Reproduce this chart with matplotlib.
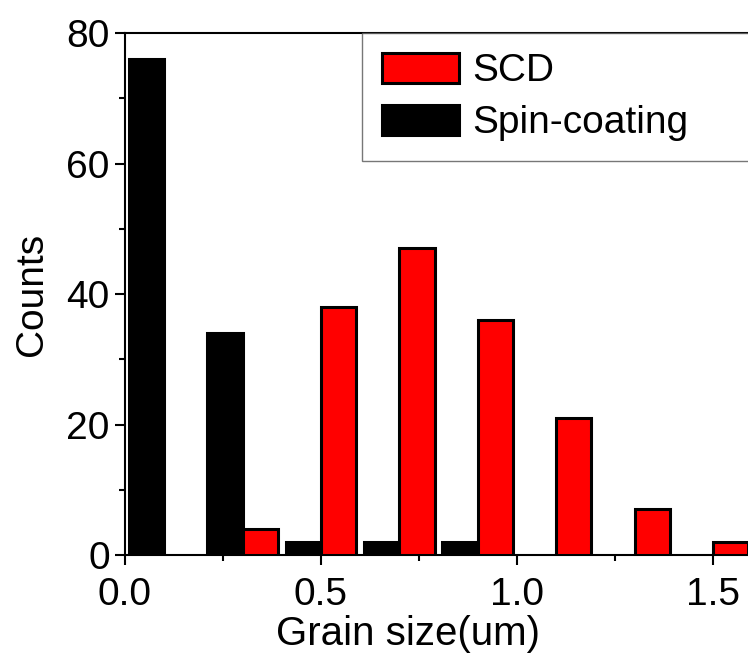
import numpy as np
import matplotlib
matplotlib.use("Agg")
import matplotlib.pyplot as plt
from matplotlib.ticker import MultipleLocator

plt.rcParams['font.family'] = ['Liberation Sans', 'DejaVu Sans']

# histogram data
bin_pos = [0.1, 0.3, 0.5, 0.7, 0.9, 1.1, 1.3, 1.5]
scd_counts = [0, 4, 38, 47, 36, 21, 7, 2]
spin_counts = [76, 34, 2, 2, 2, 0, 0, 0]
bar_w = 0.09

fig = plt.figure(figsize=(7.48, 6.64), dpi=100)
ax = fig.add_axes([0.167, 0.164, 0.835, 0.786])

def nonzero(xs, ys):
    pairs = [(x, y) for x, y in zip(xs, ys) if y > 0]
    return [p[0] for p in pairs], [p[1] for p in pairs]

sx, sy = nonzero(bin_pos, spin_counts)
cx, cy = nonzero(bin_pos, scd_counts)
ax.bar(sx, sy, width=-bar_w, align='edge', color='black', edgecolor='black',
       linewidth=2.2, label='Spin-coating', zorder=3)
ax.bar(cx, cy, width=bar_w, align='edge', color='#ff0000', edgecolor='black',
       linewidth=2.2, label='SCD', zorder=3)

ax.set_xlim(0, 1.593)
ax.set_ylim(0, 80)
ax.xaxis.set_major_locator(MultipleLocator(0.5))
ax.xaxis.set_minor_locator(MultipleLocator(0.25))
ax.yaxis.set_major_locator(MultipleLocator(20))
ax.yaxis.set_minor_locator(MultipleLocator(10))
ax.tick_params(which='major', direction='out', length=7, width=1.5, labelsize=28, pad=4)
ax.tick_params(which='minor', direction='out', length=4, width=1.5)
ax.tick_params(axis='x', which='major', pad=9)
ax.set_xticklabels([f"{v:.1f}" for v in ax.get_xticks()])

for side in ['left', 'bottom', 'top']:
    ax.spines[side].set_linewidth(1.5)
ax.spines['right'].set_visible(False)

ax.set_xlabel('Grain size(um)', fontsize=29)
ax.xaxis.set_label_coords(0.453, -0.115)
ax.set_ylabel('Counts', fontsize=28, labelpad=12)

handles, labels = ax.get_legend_handles_labels()
leg = ax.legend(handles[::-1], labels[::-1], loc='upper left',
                bbox_to_anchor=(0.38, 0.0, 0.63, 1.0), mode='expand',
                borderaxespad=0, fontsize=28, handlelength=1.98,
                handleheight=0.82, handletextpad=0.35, labelspacing=0.4,
                borderpad=0.5, frameon=True, fancybox=False)
leg.get_frame().set_edgecolor('#555555')
leg.get_frame().set_linewidth(1.0)

fig.savefig('out.png', dpi=100)
